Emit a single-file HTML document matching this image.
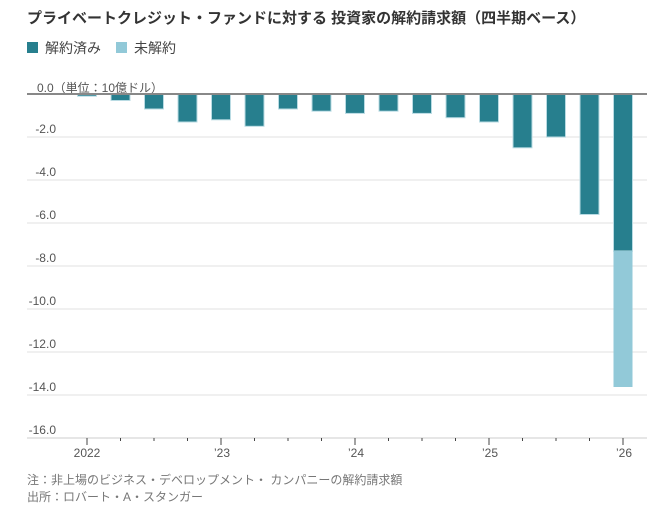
<!DOCTYPE html><html><head><meta charset="utf-8"><style>
body{margin:0;background:#fff;width:651px;height:511px;overflow:hidden;font-family:"Liberation Sans","Noto Sans CJK JP",sans-serif}
</style></head><body>
<svg width="651" height="511" xmlns="http://www.w3.org/2000/svg" font-family="Liberation Sans, Noto Sans CJK JP, sans-serif">
<text x="27" y="23" font-size="15" font-weight="bold" fill="#333">プライベートクレジット・ファンドに対する 投資家の解約請求額（四半期ベース）</text>
<rect x="27" y="42" width="11" height="11" fill="#277f8e"/><text x="45" y="53" font-size="14" fill="#444">解約済み</text>
<rect x="116" y="42" width="11" height="11" fill="#92c9d8"/><text x="134" y="53" font-size="14" fill="#444">未解約</text>
<g stroke="#ececec" stroke-width="1.5">
<line x1="27" x2="647" y1="137" y2="137"/><line x1="27" x2="647" y1="180" y2="180"/><line x1="27" x2="647" y1="223" y2="223"/><line x1="27" x2="647" y1="266" y2="266"/><line x1="27" x2="647" y1="309" y2="309"/><line x1="27" x2="647" y1="352" y2="352"/><line x1="27" x2="647" y1="395" y2="395"/><line x1="27" x2="647" y1="438" y2="438" stroke="#ddd"/>
</g>
<g font-size="12" fill="#555" text-anchor="end">
<text x="56" y="133">-2.0</text><text x="56" y="176">-4.0</text><text x="56" y="219">-6.0</text><text x="56" y="262">-8.0</text><text x="56" y="305">-10.0</text><text x="56" y="348">-12.0</text><text x="56" y="391">-14.0</text><text x="56" y="434">-16.0</text>
</g>
<text x="37" y="92" font-size="12" fill="#555">0.0（単位：10億ドル）</text>
<g fill="#277f8e" stroke="#b9dbe3" stroke-width="1">
<rect x="77.5" y="94" width="19" height="2.2"/>
<rect x="111" y="94" width="19" height="6.5"/>
<rect x="144.5" y="94" width="19" height="15"/>
<rect x="178" y="94" width="19" height="28"/>
<rect x="211.5" y="94" width="19" height="25.8"/>
<rect x="245" y="94" width="19" height="32.3"/>
<rect x="278.5" y="94" width="19" height="15"/>
<rect x="312" y="94" width="19" height="17.2"/>
<rect x="345.5" y="94" width="19" height="19.4"/>
<rect x="379" y="94" width="19" height="17.2"/>
<rect x="412.5" y="94" width="19" height="19.4"/>
<rect x="446" y="94" width="19" height="23.7"/>
<rect x="479.5" y="94" width="19" height="28"/>
<rect x="513" y="94" width="19" height="53.8"/>
<rect x="546.5" y="94" width="19" height="43"/>
<rect x="580" y="94" width="19" height="120.5"/>
<rect x="613.5" y="94" width="19" height="157"/>
</g>
<rect x="613.5" y="251" width="19" height="136" fill="#92c9d8"/>
<line x1="27" x2="647" y1="94" y2="94" stroke="#888" stroke-width="2"/>
<g stroke="#444" stroke-width="1">
<line x1="87" x2="87" y1="438" y2="445"/><line x1="120.5" x2="120.5" y1="438" y2="441"/><line x1="154" x2="154" y1="438" y2="441"/><line x1="187.5" x2="187.5" y1="438" y2="441"/><line x1="221" x2="221" y1="438" y2="445"/><line x1="254.5" x2="254.5" y1="438" y2="441"/><line x1="288" x2="288" y1="438" y2="441"/><line x1="321.5" x2="321.5" y1="438" y2="441"/><line x1="355" x2="355" y1="438" y2="445"/><line x1="388.5" x2="388.5" y1="438" y2="441"/><line x1="422" x2="422" y1="438" y2="441"/><line x1="455.5" x2="455.5" y1="438" y2="441"/><line x1="489" x2="489" y1="438" y2="445"/><line x1="522.5" x2="522.5" y1="438" y2="441"/><line x1="556" x2="556" y1="438" y2="441"/><line x1="589.5" x2="589.5" y1="438" y2="441"/><line x1="623" x2="623" y1="438" y2="445"/>
</g>
<g font-size="12" fill="#555" text-anchor="middle">
<text x="87" y="457">2022</text><text x="222" y="457">’23</text><text x="356" y="457">’24</text><text x="490" y="457">’25</text><text x="624" y="457">’26</text>
</g>
<text x="27" y="484" font-size="12" fill="#777">注：非上場のビジネス・デベロップメント・ カンパニーの解約請求額</text>
<text x="27" y="501" font-size="12" fill="#777">出所：ロバート・A・スタンガー</text>
</svg>
</body></html>
